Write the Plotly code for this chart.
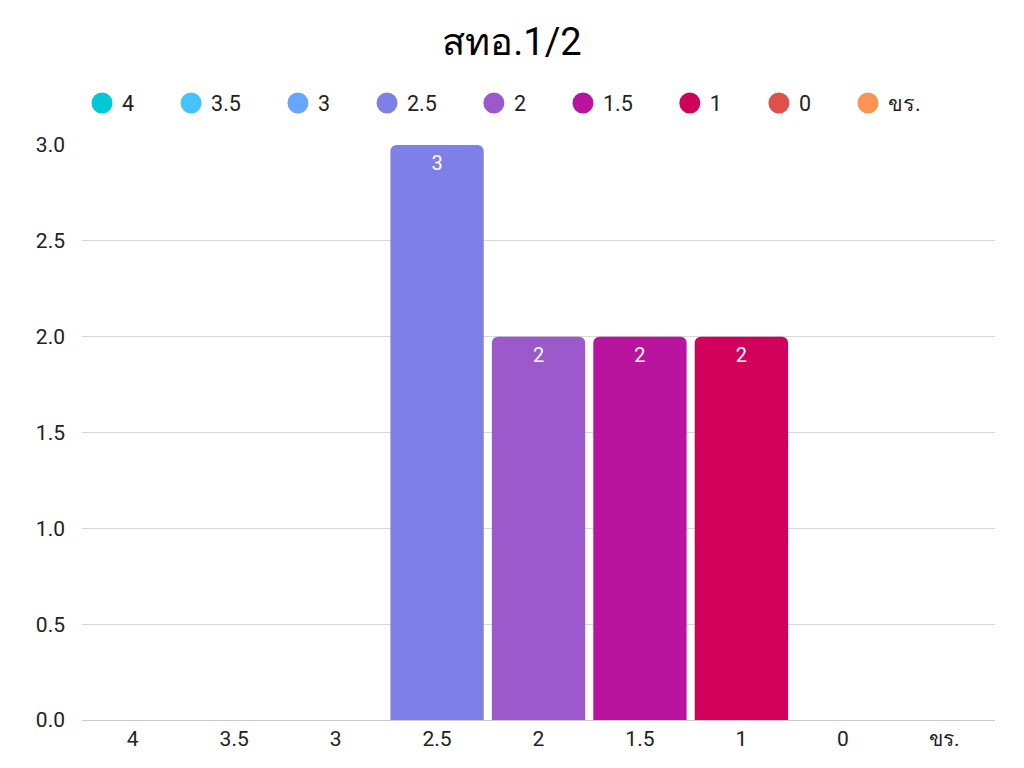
import plotly.graph_objects as go

# Grade categories and counts
grades = ["4", "3.5", "3", "2.5", "2", "1.5", "1", "0", "ขร."]
counts = [0, 0, 0, 3, 2, 2, 2, 0, 0]
colors = ["#00c8d7", "#45c3fd", "#68a5fc", "#7e80e7", "#9b59cc",
          "#b9139f", "#d0005b", "#e0504a", "#fa9450"]

labels = [str(c) if c > 0 else "" for c in counts]
pad = "\u00a0" * 6

fig = go.Figure()

fig.add_trace(go.Bar(
    x=grades, y=counts,
    marker=dict(color=colors, line=dict(width=0)),
    text=labels, textposition="inside", insidetextanchor="end",
    textfont=dict(color="white", size=20),
    width=0.92, showlegend=False, hoverinfo="x+y",
))

# legend entries with round markers
for g, c in zip(grades, colors):
    fig.add_trace(go.Scatter(
        x=[None], y=[None], mode="markers", name=g + pad,
        marker=dict(symbol="circle", size=16, color=c, line=dict(color=c, width=5)),
    ))

fig.update_layout(
    title=dict(text="สทอ.1/2", x=0.5, xanchor="center", y=0.955, yanchor="middle",
               font=dict(size=38, color="#000000")),
    font=dict(family="Roboto, Noto Sans, sans-serif", size=21, color="#222222"),
    plot_bgcolor="white", paper_bgcolor="white",
    margin=dict(l=74, r=21, t=137, b=40),
    barcornerradius=6,
    legend=dict(orientation="h", x=0.0, xanchor="left", y=1.073, yanchor="middle",
                font=dict(size=21.5), itemwidth=30, traceorder="normal"),
    xaxis=dict(type="category", showgrid=False, showline=True, linecolor="#cccccc",
               linewidth=1, ticks="", tickfont=dict(size=21), automargin=False),
    yaxis=dict(range=[0, 3.0], dtick=0.5, tickformat=".1f", showgrid=True,
               gridcolor="#d9d9d9", zeroline=False, ticks="", tickfont=dict(size=21),
               ticklabelstandoff=16, automargin=False),
)

fig.write_html("out.html")
